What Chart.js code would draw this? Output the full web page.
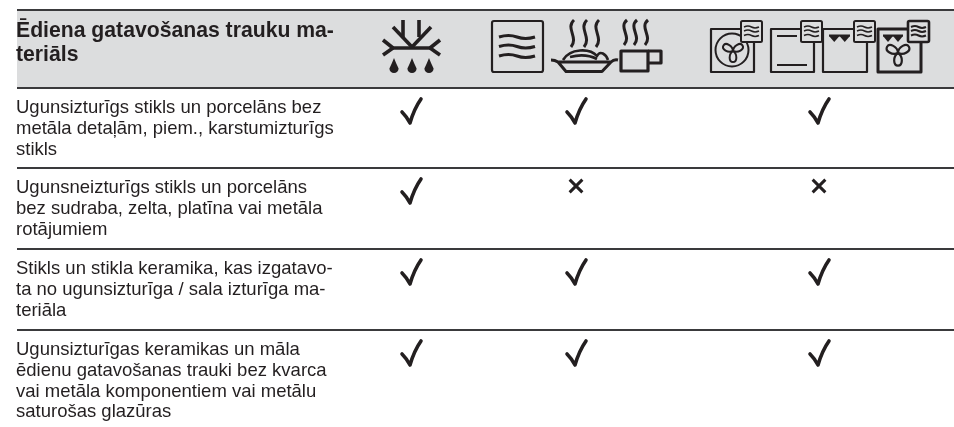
<!DOCTYPE html>
<html>
<head>
<meta charset="utf-8">
<title>Ēdiena gatavošanas trauku materiāls</title>
<script src="https://cdn.jsdelivr.net/npm/chart.js"></script>
<style>
  html, body { margin: 0; padding: 0; background: #fff; }
  canvas { display: block; }
</style>
</head>
<body>
<canvas id="tableChart" width="954" height="427"></canvas>
<script>
// table data
const headerTitle = ['Ēdiena gatavošanas trauku ma-', 'teriāls'];
const materials = [
  ['Ugunsizturīgs stikls un porcelāns bez', 'metāla detaļām, piem., karstumizturīgs', 'stikls'],
  ['Ugunsneizturīgs stikls un porcelāns', 'bez sudraba, zelta, platīna vai metāla', 'rotājumiem'],
  ['Stikls un stikla keramika, kas izgatavo-', 'ta no ugunsizturīga / sala izturīga ma-', 'teriāla'],
  ['Ugunsizturīgas keramikas un māla', 'ēdienu gatavošanas trauki bez kvarca', 'vai metāla komponentiem vai metālu', 'saturošas glazūras']
];
// 1 = allowed, 0 = not allowed
const defrostMode = [1, 1, 1, 1];
const microwaveMode = [1, 0, 1, 1];
const combiMode = [1, 0, 1, 1];

// where the columns and rows sit on the axes
const modeColumns = [defrostMode, microwaveMode, combiMode];
const columnCentres = [411, 576, 819];
const rowLines = [10, 88, 168, 249, 330];
const checkOffset = 23;
const crossOffset = 18;

const INK = '#231f20';
const HEAD = '#dcddde';

function buildPoints(wanted, offset) {
  const pts = [];
  modeColumns.forEach(function (col, c) {
    col.forEach(function (v, r) {
      if (v === wanted) pts.push({ x: columnCentres[c], y: rowLines[r + 1] + offset });
    });
  });
  return pts;
}

// check mark used as point style
function makeCheck() {
  const cv = document.createElement('canvas');
  cv.width = 30;
  cv.height = 34;
  const c = cv.getContext('2d');
  c.strokeStyle = INK;
  c.lineWidth = 3.6;
  c.lineCap = 'round';
  c.lineJoin = 'round';
  c.beginPath();
  c.moveTo(6, 18);
  c.quadraticCurveTo(11, 23, 14, 29);
  c.quadraticCurveTo(18, 15, 25, 5);
  c.stroke();
  return cv;
}

function wave(ctx, x0, x1, y, amp, lw) {
  const w = (x1 - x0) / 3;
  ctx.lineWidth = lw;
  ctx.beginPath();
  ctx.moveTo(x0, y);
  ctx.bezierCurveTo(x0 + w * 0.6, y - amp, x0 + w, y - amp, x0 + w * 1.5, y);
  ctx.bezierCurveTo(x0 + w * 2, y + amp, x0 + w * 2.4, y + amp, x1, y);
  ctx.stroke();
}

function steam(ctx, x, top, bottom) {
  const h = (bottom - top) / 2;
  ctx.beginPath();
  ctx.moveTo(x + 2, top);
  ctx.bezierCurveTo(x - 7, top + h * 0.6, x + 7, top + h * 1.3, x - 1, bottom);
  ctx.stroke();
}

function drop(ctx, x, top, bottom) {
  const r = 4.6;
  ctx.beginPath();
  ctx.moveTo(x, top);
  ctx.quadraticCurveTo(x + 1.5, top + 4, x + r, bottom - r);
  ctx.arc(x, bottom - r, r, 0, Math.PI);
  ctx.quadraticCurveTo(x - 1.5, top + 4, x, top);
  ctx.fill();
}

function fan(ctx, cx, cy, s, lw) {
  ctx.lineWidth = lw;
  for (let i = 0; i < 3; i++) {
    ctx.save();
    ctx.translate(cx, cy);
    ctx.rotate(i * 2 * Math.PI / 3 + Math.PI);
    ctx.beginPath();
    ctx.moveTo(0, 0);
    ctx.bezierCurveTo(-s * 0.45, -s * 0.3, -s * 0.4, -s * 1.05, 0, -s * 1.05);
    ctx.bezierCurveTo(s * 0.4, -s * 1.05, s * 0.45, -s * 0.3, 0, 0);
    ctx.stroke();
    ctx.restore();
  }
}

function miniBox(ctx, x, lw) {
  ctx.fillStyle = HEAD;
  ctx.lineWidth = lw;
  ctx.beginPath();
  ctx.roundRect(x, 21, 21, 21, 1.5);
  ctx.fill();
  ctx.stroke();
  wave(ctx, x + 3, x + 18, 27, 1.3, lw > 2 ? 2 : 1.5);
  wave(ctx, x + 3, x + 18, 31, 1.3, lw > 2 ? 2 : 1.5);
  wave(ctx, x + 3, x + 18, 35.5, 1.3, lw > 2 ? 2 : 1.5);
  ctx.fillStyle = INK;
}

function ovenOutline(ctx, x0, x1, topEnd, lw) {
  ctx.lineWidth = lw;
  ctx.beginPath();
  ctx.moveTo(topEnd, 29);
  ctx.lineTo(x0, 29);
  ctx.lineTo(x0, 72);
  ctx.lineTo(x1, 72);
  ctx.lineTo(x1, 42);
  ctx.stroke();
}

function grillTeeth(ctx, x0, x1) {
  ctx.lineWidth = 2;
  ctx.beginPath();
  ctx.moveTo(x0, 35.5);
  ctx.lineTo(x1, 35.5);
  ctx.stroke();
  const w = (x1 - x0) / 2;
  for (let i = 0; i < 2; i++) {
    ctx.beginPath();
    ctx.moveTo(x0 + i * w, 36);
    ctx.lineTo(x0 + i * w + w, 36);
    ctx.lineTo(x0 + i * w + w / 2, 42);
    ctx.closePath();
    ctx.fill();
  }
}

function drawIcons(ctx) {
  ctx.save();
  ctx.strokeStyle = INK;
  ctx.fillStyle = INK;
  ctx.lineCap = 'butt';
  ctx.lineJoin = 'round';

  // defrost
  ctx.lineWidth = 3.6;
  [[392, 48, 431, 48], [383, 40, 393, 48], [383, 55, 393, 48], [440, 40, 430, 48], [440, 55, 430, 48],
   [393, 27, 412, 47], [431, 27, 412, 47], [403, 20, 403, 37], [419, 20, 419, 37]].forEach(function (l) {
    ctx.beginPath();
    ctx.moveTo(l[0], l[1]);
    ctx.lineTo(l[2], l[3]);
    ctx.stroke();
  });
  [394, 412, 429].forEach(function (x) { drop(ctx, x, 58, 73); });

  // microwave
  ctx.lineWidth = 2.2;
  ctx.beginPath();
  ctx.roundRect(492, 21, 51, 51, 2);
  ctx.stroke();
  wave(ctx, 499, 535, 37, 2.2, 3);
  wave(ctx, 499, 535, 46.5, 2.2, 3);
  wave(ctx, 499, 535, 56, 2.2, 3);

  // plate with steam
  ctx.lineWidth = 3;
  [572, 585, 597].forEach(function (x) { steam(ctx, x, 20, 47); });
  ctx.beginPath();
  ctx.moveTo(551, 60);
  ctx.quadraticCurveTo(555, 60, 558, 62);
  ctx.lineTo(566, 71.5);
  ctx.lineTo(602, 71.5);
  ctx.lineTo(611, 62);
  ctx.quadraticCurveTo(614, 59, 618, 60);
  ctx.moveTo(558, 62);
  ctx.lineTo(611, 62);
  ctx.stroke();
  ctx.lineWidth = 2.6;
  ctx.beginPath();
  ctx.moveTo(563, 60);
  ctx.bezierCurveTo(570, 48, 590, 48, 597, 56);
  ctx.bezierCurveTo(600, 50, 606, 54, 608, 60);
  ctx.moveTo(570, 57);
  ctx.quadraticCurveTo(585, 53, 597, 59);
  ctx.stroke();

  // cup with steam
  ctx.lineWidth = 3;
  [625, 635, 646].forEach(function (x) { steam(ctx, x, 20, 45); });
  ctx.lineWidth = 3.2;
  ctx.strokeRect(621, 51, 27, 20);
  ctx.beginPath();
  ctx.moveTo(648, 51);
  ctx.lineTo(661, 51);
  ctx.lineTo(661, 63);
  ctx.lineTo(648, 63);
  ctx.stroke();

  // oven with round fan
  ovenOutline(ctx, 711, 754, 742, 2.2);
  ctx.lineWidth = 2;
  ctx.beginPath();
  ctx.arc(732, 50, 16.5, 0, Math.PI * 2);
  ctx.stroke();
  fan(ctx, 733, 51, 10.5, 2);
  miniBox(ctx, 741, 2);

  // top and bottom heat
  ovenOutline(ctx, 771, 814, 800, 2.2);
  ctx.beginPath();
  ctx.moveTo(777, 36);
  ctx.lineTo(797, 36);
  ctx.moveTo(777, 65);
  ctx.lineTo(807, 65);
  ctx.stroke();
  miniBox(ctx, 801, 2);

  // grill
  ovenOutline(ctx, 823, 867, 853, 2.2);
  grillTeeth(ctx, 829, 850);
  miniBox(ctx, 854, 2);

  // grill with fan
  ovenOutline(ctx, 878, 921, 907, 3);
  grillTeeth(ctx, 883, 903);
  fan(ctx, 898, 53, 12, 2.2);
  miniBox(ctx, 908, 2.6);
  ctx.restore();
}

function drawTexts(ctx, chart) {
  const y = chart.scales.y;
  ctx.save();
  ctx.fillStyle = INK;
  ctx.textBaseline = 'alphabetic';
  ctx.font = 'bold 21.2px "Liberation Sans"';
  headerTitle.forEach(function (line, i) {
    ctx.fillText(line, 16, 37 + i * 24);
  });
  ctx.font = '18.5px "Liberation Sans"';
  materials.forEach(function (lines, r) {
    lines.forEach(function (line, i) {
      ctx.fillText(line, 16, y.getPixelForValue(rowLines[r + 1]) + 25 + i * 20.8);
    });
  });
  ctx.restore();
}

const tablePlugin = {
  id: 'tablePlugin',
  beforeDraw: function (chart) {
    const x = chart.scales.x;
    const y = chart.scales.y;
    const top = y.getPixelForValue(rowLines[0]);
    const bottom = y.getPixelForValue(rowLines[1]);
    chart.ctx.fillStyle = HEAD;
    chart.ctx.fillRect(x.left, top, x.right - x.left, bottom - top);
  },
  afterDraw: function (chart) {
    drawIcons(chart.ctx);
    drawTexts(chart.ctx, chart);
  }
};

new Chart(document.getElementById('tableChart'), {
  type: 'scatter',
  data: {
    datasets: [
      {
        label: 'Der',
        data: buildPoints(1, checkOffset),
        pointStyle: makeCheck(),
        pointRadius: 10
      },
      {
        label: 'Neder',
        data: buildPoints(0, crossOffset),
        pointStyle: 'crossRot',
        pointRadius: 9,
        pointBorderWidth: 3,
        pointBorderColor: INK
      }
    ]
  },
  options: {
    responsive: false,
    animation: false,
    layout: { autoPadding: false, padding: { left: 17, right: 0, top: 0, bottom: 0 } },
    plugins: { legend: { display: false }, tooltip: { enabled: false } },
    scales: {
      x: {
        type: 'linear',
        min: 17,
        max: 954,
        display: false
      },
      y: {
        type: 'linear',
        reverse: true,
        min: 0,
        max: 427,
        afterBuildTicks: function (axis) {
          axis.ticks = rowLines.map(function (v) { return { value: v }; });
        },
        ticks: { display: false },
        border: { display: false },
        grid: { color: '#3a3a3c', lineWidth: 2, drawTicks: false }
      }
    }
  },
  plugins: [tablePlugin]
});
</script>
</body>
</html>
